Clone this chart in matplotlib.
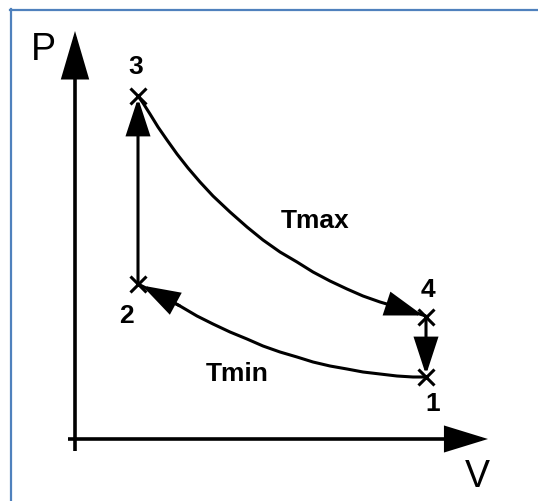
import matplotlib
matplotlib.use("Agg")
import matplotlib.pyplot as plt
from matplotlib.patches import FancyArrowPatch, ArrowStyle
from matplotlib.lines import Line2D

# ---- data (V, P in arbitrary units) ----
state_labels = ["1", "2", "3", "4"]
state_V = [3.51, 0.63, 0.63, 3.51]
state_P = [0.62, 1.55, 3.43, 1.22]

# isotherm Tmax: 3 -> 4
hot_V = [0.63, 0.68, 0.75, 0.83, 0.92, 1.02, 1.13, 1.25, 1.38, 1.55, 1.72, 1.88,
         2.05, 2.22, 2.38, 2.55, 2.72, 2.88, 3.05, 3.22, 3.38, 3.51]
hot_P = [3.43, 3.36, 3.25, 3.12, 2.99, 2.85, 2.71, 2.57, 2.43, 2.27, 2.12, 1.99,
         1.87, 1.77, 1.67, 1.58, 1.50, 1.43, 1.37, 1.32, 1.27, 1.23]

# isotherm Tmin: 1 -> 2
cold_V = [3.51, 3.38, 3.22, 3.05, 2.88, 2.72, 2.55, 2.38, 2.22, 2.05, 1.88,
          1.72, 1.55, 1.38, 1.22, 1.05, 0.88, 0.75, 0.63]
cold_P = [0.62, 0.62, 0.63, 0.65, 0.67, 0.70, 0.73, 0.77, 0.82, 0.87, 0.93,
          1.00, 1.07, 1.15, 1.23, 1.33, 1.42, 1.49, 1.55]

axis_labels = ["P", "V"]
curve_labels = ["Tmax", "Tmin"]

FONT = "Liberation Sans"

fig = plt.figure(figsize=(5.38, 5.02), dpi=100)
ax = fig.add_axes([0, 0, 1, 1])
ax.set_xlim(-0.75, 4.63)
ax.set_ylim(-0.62, 4.40)
ax.axis("off")

# blue frame (top and left)
blue = "#4f81bd"
fig.add_artist(Line2D([10 / 538, 1], [1 - 10.5 / 502, 1 - 10.5 / 502],
                      transform=fig.transFigure, color=blue, lw=1.6))
fig.add_artist(Line2D([10.5 / 538, 10.5 / 538], [0, 1 - 10 / 502],
                      transform=fig.transFigure, color=blue, lw=1.6))

def arrow(p0, p1, lw, hl, hw):
    a = FancyArrowPatch(p0, p1, arrowstyle=ArrowStyle("-|>", head_length=hl, head_width=hw),
                        mutation_scale=1, lw=lw, color="black", shrinkA=0, shrinkB=0,
                        joinstyle="miter", capstyle="butt")
    ax.add_patch(a)

# coordinate axes
arrow((0, -0.12), (0, 4.08), 2.6, 29, 8.5)
arrow((-0.07, 0), (4.13, 0), 2.6, 26, 8.0)
ax.text(-0.32, 3.90, axis_labels[0], fontsize=27, family=FONT, ha="center", va="center")
ax.text(4.02, -0.37, axis_labels[1], fontsize=27, family=FONT, ha="center", va="center")

# cycle
lw = 2.2
ax.plot(hot_V, hot_P, color="black", lw=lw, solid_capstyle="butt", solid_joinstyle="round")
ax.plot(cold_V, cold_P, color="black", lw=lw, solid_capstyle="butt", solid_joinstyle="round")
# 2 -> 3 (vertical)
arrow((state_V[1], state_P[1]), (state_V[2], state_P[2] - 0.02), lw, 23, 7.5)
# 4 -> 1 (vertical)
arrow((state_V[3], state_P[3]), (state_V[0], state_P[0] + 0.02), lw, 23, 7.5)
# arrow heads on isotherms
arrow((hot_V[-3], hot_P[-3]), (hot_V[-1] - 0.03, hot_P[-1] + 0.005), lw, 23, 7.5)
arrow((cold_V[-4], cold_P[-4]), (cold_V[-1] + 0.04, cold_P[-1] - 0.015), lw, 23, 7.5)

# state markers
ax.plot(state_V, state_P, linestyle="none", marker="x", color="black",
        markersize=11, mew=2.2)

label_off = [(0.07, -0.26), (-0.12, -0.31), (-0.02, 0.30), (0.02, 0.28)]
for s, v, p, (dx, dy) in zip(state_labels, state_V, state_P, label_off):
    ax.text(v + dx, p + dy, s, fontsize=19, fontweight="bold", family=FONT,
            ha="center", va="center")

ax.text(2.40, 2.19, curve_labels[0], fontsize=19, fontweight="bold", family=FONT,
        ha="center", va="center")
ax.text(1.62, 0.66, curve_labels[1], fontsize=19, fontweight="bold", family=FONT,
        ha="center", va="center")

fig.savefig("out.png", dpi=100)
